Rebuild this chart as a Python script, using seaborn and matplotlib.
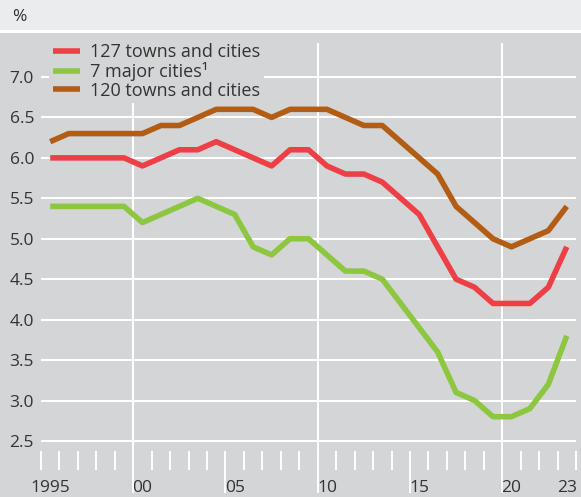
import numpy as np
import pandas as pd
import seaborn as sns
import matplotlib.pyplot as plt
from matplotlib.patches import Rectangle

# data (%)
years = list(range(1995, 2024))
towns_127 = [6.0, 6.0, 6.0, 6.0, 6.0, 5.9, 6.0, 6.1, 6.1, 6.2,
             6.1, 6.0, 5.9, 6.1, 6.1, 5.9, 5.8, 5.8, 5.7, 5.5,
             5.3, 4.9, 4.5, 4.4, 4.2, 4.2, 4.2, 4.4, 4.9]
major_7 = [5.4, 5.4, 5.4, 5.4, 5.4, 5.2, 5.3, 5.4, 5.5, 5.4,
           5.3, 4.9, 4.8, 5.0, 5.0, 4.8, 4.6, 4.6, 4.5, 4.2,
           3.9, 3.6, 3.1, 3.0, 2.8, 2.8, 2.9, 3.2, 3.8]
towns_120 = [6.2, 6.3, 6.3, 6.3, 6.3, 6.3, 6.4, 6.4, 6.5, 6.6,
             6.6, 6.6, 6.5, 6.6, 6.6, 6.6, 6.5, 6.4, 6.4, 6.2,
             6.0, 5.8, 5.4, 5.2, 5.0, 4.9, 5.0, 5.1, 5.4]

series_names = ["127 towns and cities", "7 major cities\u00b9", "120 towns and cities"]
series_colors = ["#ee3f46", "#8dc63f", "#b35c14"]
y_ticks = [2.5, 3.0, 3.5, 4.0, 4.5, 5.0, 5.5, 6.0, 6.5, 7.0]
label_years = [1995, 2000, 2005, 2010, 2015, 2020, 2023]
label_texts = ["1995", "00", "05", "10", "15", "20", "23"]

bg = "#d4d5d7"
band = "#ebecee"
txt = "#333333"

sns.set_theme(style="dark", rc={"axes.facecolor": bg, "figure.facecolor": bg})
plt.rcParams["font.family"] = ["Open Sans", "DejaVu Sans"]
plt.rcParams["font.size"] = 12.5

df = pd.DataFrame({
    "year": years,
    series_names[0]: towns_127,
    series_names[1]: major_7,
    series_names[2]: towns_120,
}).melt(id_vars="year", var_name="series", value_name="value")

fig = plt.figure(figsize=(5.81, 4.97), dpi=100)
# light header band with a white rule under it
fig.patches.append(Rectangle((0, 467 / 497), 1, 30 / 497, transform=fig.transFigure,
                             facecolor=band, edgecolor="none", zorder=0))
fig.patches.append(Rectangle((0, 464 / 497), 1, 3 / 497, transform=fig.transFigure,
                             facecolor="white", edgecolor="none", zorder=0))
fig.text(12 / 581, 1 - 17 / 497, "%", ha="left", va="center", color=txt, fontsize=12.5)

ax = fig.add_axes([41 / 581, 46 / 497, 535 / 581, 408 / 497])
sns.lineplot(data=df, x="year", y="value", hue="series", hue_order=series_names,
             palette=series_colors, linewidth=4, ax=ax, solid_capstyle="butt")

ax.set_xlim(1994.5, 2023.5)
ax.set_ylim(2.376, 7.42)
ax.set_xlabel("")
ax.set_ylabel("")
for s in ax.spines.values():
    s.set_visible(False)

ax.set_yticks(y_ticks)
ax.set_yticklabels([f"{v:.1f}" for v in y_ticks])
ax.grid(axis="y", color="white", linewidth=1.5)
ax.grid(axis="x", visible=False)
ax.set_axisbelow(True)
ax.tick_params(axis="y", length=0, pad=5, colors=txt, labelsize=12.5)

# year boundaries as ticks: long ones at 2000, 2005, ... 2020
bounds = np.arange(1994.5, 2024.0, 1.0)
long_bounds = [1999.5, 2004.5, 2009.5, 2014.5, 2019.5]
ax.set_xticks(long_bounds)
ax.set_xticks([b for b in bounds if b not in long_bounds], minor=True)
ax.tick_params(axis="x", which="major", direction="out", length=30, width=1.4,
               color="white", bottom=True, labelbottom=False)
ax.tick_params(axis="x", which="minor", direction="out", length=13.7, width=1.4,
               color="white", bottom=True)
for x in [1999.5, 2009.5, 2019.5]:
    ax.axvline(x, color="white", linewidth=1.5, zorder=0.5)

secax = ax.secondary_xaxis("bottom")
secax.set_xticks(label_years, labels=label_texts)
secax.tick_params(length=0, pad=21, colors=txt, labelsize=12.5)
secax.spines["bottom"].set_visible(False)

handles, labels = ax.get_legend_handles_labels()
ax.legend(handles, labels, loc="upper left", bbox_to_anchor=(0.0157, 1.009),
          borderaxespad=0, frameon=True, facecolor=bg, edgecolor="none", framealpha=1,
          fancybox=False, borderpad=0.2, handlelength=1.5, handletextpad=0.55,
          labelspacing=0.05, fontsize=13, labelcolor=txt)

fig.savefig("out.png", dpi=100, facecolor=bg)
